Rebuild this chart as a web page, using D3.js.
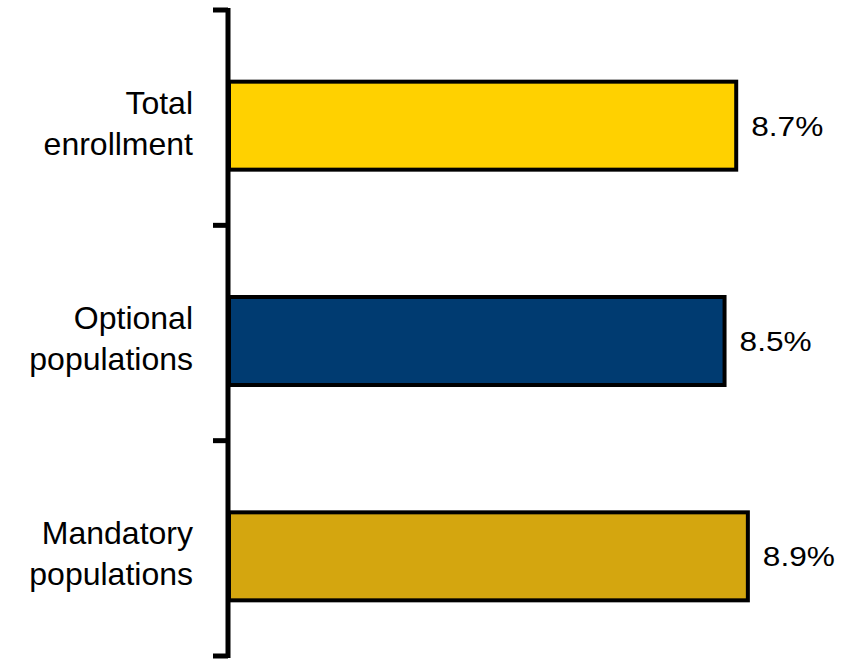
<!DOCTYPE html>
<html>
<head>
<meta charset="utf-8">
<script src="https://cdn.jsdelivr.net/npm/d3@7"></script>
<style>
  html, body { margin: 0; padding: 0; background: #fff; }
  svg { display: block; }
</style>
</head>
<body>
<svg id="chart" width="852" height="660"></svg>
<script>
// Enrollment growth by population group
const categories = [["Total", "enrollment"], ["Optional", "populations"], ["Mandatory", "populations"]];
const values = [8.7, 8.5, 8.9];
const colors = ["#FFD100", "#003B71", "#D4A60F"];
const valueLabels = ["8.7%", "8.5%", "8.9%"];

const svg = d3.select("#chart");
const axisX = 229;
const plotTop = 10, plotBottom = 656;

const keys = categories.map(c => c.join(" "));
const y = d3.scaleBand().domain(keys).range([plotTop, plotBottom]).paddingInner(0).paddingOuter(0);
const x = d3.scaleLinear().domain([0, 10]).range([axisX, axisX + 583]);

const barH = 88;
const barShift = 8;
const barCenter = i => y(keys[i]) + y.bandwidth() / 2 + barShift;

// bars
svg.selectAll("rect.bar")
  .data(values)
  .join("rect")
  .attr("class", "bar")
  .attr("x", x(0))
  .attr("y", (d, i) => barCenter(i) - barH / 2)
  .attr("width", d => x(d) - x(0))
  .attr("height", barH)
  .attr("fill", (d, i) => colors[i])
  .attr("stroke", "#000")
  .attr("stroke-width", 4);

// value labels (slightly widened face)
svg.selectAll("text.val")
  .data(values)
  .join("text")
  .attr("class", "val")
  .attr("transform", (d, i) => `translate(${x(d) + 15},${barCenter(i) + 10}) scale(1.13,1)`)
  .attr("font-family", "Liberation Sans, Arial, sans-serif")
  .attr("font-size", 28)
  .attr("fill", "#000")
  .text((d, i) => valueLabels[i]);

// category axis with ticks at band boundaries
const boundaries = keys.map(k => y(k)).concat([y(keys[keys.length - 1]) + y.bandwidth()]);
svg.append("line")
  .attr("x1", axisX - 1).attr("x2", axisX - 1)
  .attr("y1", plotTop - 2).attr("y2", plotBottom + 2)
  .attr("stroke", "#000").attr("stroke-width", 5);
svg.selectAll("line.tick")
  .data(boundaries)
  .join("line")
  .attr("class", "tick")
  .attr("x1", axisX - 16).attr("x2", axisX - 1)
  .attr("y1", d => d).attr("y2", d => d)
  .attr("stroke", "#000").attr("stroke-width", 5);

// category labels
const catG = svg.selectAll("text.cat")
  .data(categories)
  .join("text")
  .attr("class", "cat")
  .attr("text-anchor", "end")
  .attr("font-family", "Liberation Sans, Arial, sans-serif")
  .attr("font-size", 32)
  .attr("fill", "#000");
catG.each(function(lines, i) {
  const cy = barCenter(i);
  const t = d3.select(this);
  lines.forEach((ln, j) => {
    t.append("tspan")
      .attr("x", 193)
      .attr("y", cy - 12 + j * 41)
      .text(ln);
  });
});
</script>
</body>
</html>
